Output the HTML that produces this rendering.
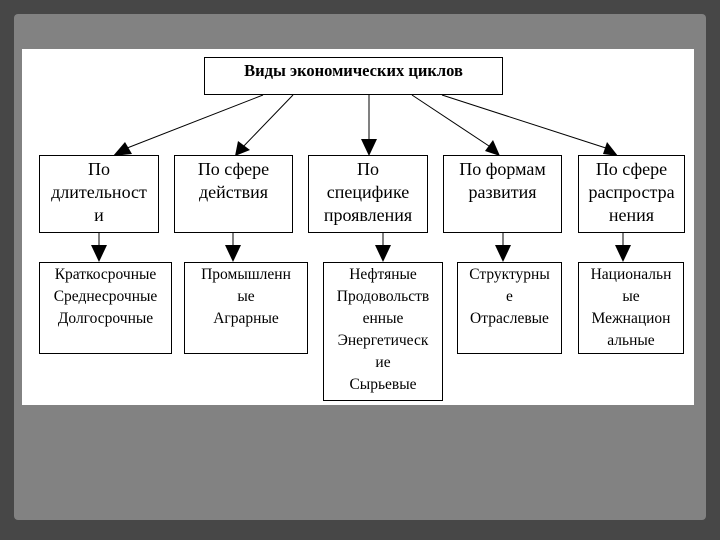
<!DOCTYPE html>
<html><head><meta charset="utf-8"><style>
body{margin:0;width:720px;height:540px;overflow:hidden;background:#474747;position:relative;font-family:"Liberation Serif",serif}
.panel{position:absolute;left:14px;top:14px;width:692px;height:506px;background:#828282;border-radius:4px}
.white{position:absolute;left:22px;top:49px;width:672px;height:356px;background:#fff}
.b{position:absolute;border:1.5px solid #000;background:#fff;box-sizing:border-box;text-align:center;font-size:18px;line-height:23px;color:#000;padding-top:2px}
.s{font-size:15.5px;line-height:22px;padding-top:1px}
svg{position:absolute;left:0;top:0}
</style></head><body>
<div class="panel"></div>
<div class="white"></div>
<svg width="720" height="540">
<g stroke="#000" stroke-width="1">
<line x1="263" y1="95" x2="122" y2="150"/>
<line x1="293" y1="95" x2="240" y2="150"/>
<line x1="369" y1="95" x2="369" y2="142"/>
<line x1="412" y1="95" x2="495" y2="150"/>
<line x1="442" y1="95" x2="612" y2="150"/>
<line x1="99" y1="232" x2="99" y2="248"/>
<line x1="233" y1="232" x2="233" y2="248"/>
<line x1="383" y1="232" x2="383" y2="248"/>
<line x1="503" y1="232" x2="503" y2="248"/>
<line x1="623" y1="232" x2="623" y2="248"/>
</g>
<g fill="#000">
<polygon points="113,156 125,142 132,154"/>
<polygon points="235,156 238,141 250,150"/>
<polygon points="361,139 377,139 369,156"/>
<polygon points="500,156 485,151 493,140"/>
<polygon points="618,156 603,154 607,142"/>
<polygon points="91,245 107,245 99,262"/>
<polygon points="225,245 241,245 233,262"/>
<polygon points="375,245 391,245 383,262"/>
<polygon points="495,245 511,245 503,262"/>
<polygon points="615,245 631,245 623,262"/>
</g>
</svg>
<div class="b" style="left:204px;top:57px;width:299px;height:38px;font-weight:bold;font-size:16.5px;line-height:26px;padding-top:0">Виды экономических циклов</div>
<div class="b" style="left:39px;top:155px;width:120px;height:78px">По<br>длительност<br>и</div>
<div class="b" style="left:174px;top:155px;width:119px;height:78px">По сфере<br>действия</div>
<div class="b" style="left:308px;top:155px;width:120px;height:78px">По<br>специфике<br>проявления</div>
<div class="b" style="left:443px;top:155px;width:119px;height:78px">По формам<br>развития</div>
<div class="b" style="left:578px;top:155px;width:107px;height:78px">По сфере<br>распростра<br>нения</div>
<div class="b s" style="left:39px;top:262px;width:133px;height:92px">Краткосрочные<br>Среднесрочные<br>Долгосрочные</div>
<div class="b s" style="left:184px;top:262px;width:124px;height:92px">Промышленн<br>ые<br>Аграрные</div>
<div class="b s" style="left:323px;top:262px;width:120px;height:139px">Нефтяные<br>Продовольств<br>енные<br>Энергетическ<br>ие<br>Сырьевые</div>
<div class="b s" style="left:457px;top:262px;width:105px;height:92px">Структурны<br>е<br>Отраслевые</div>
<div class="b s" style="left:578px;top:262px;width:106px;height:92px">Национальн<br>ые<br>Межнацион<br>альные</div>
</body></html>
